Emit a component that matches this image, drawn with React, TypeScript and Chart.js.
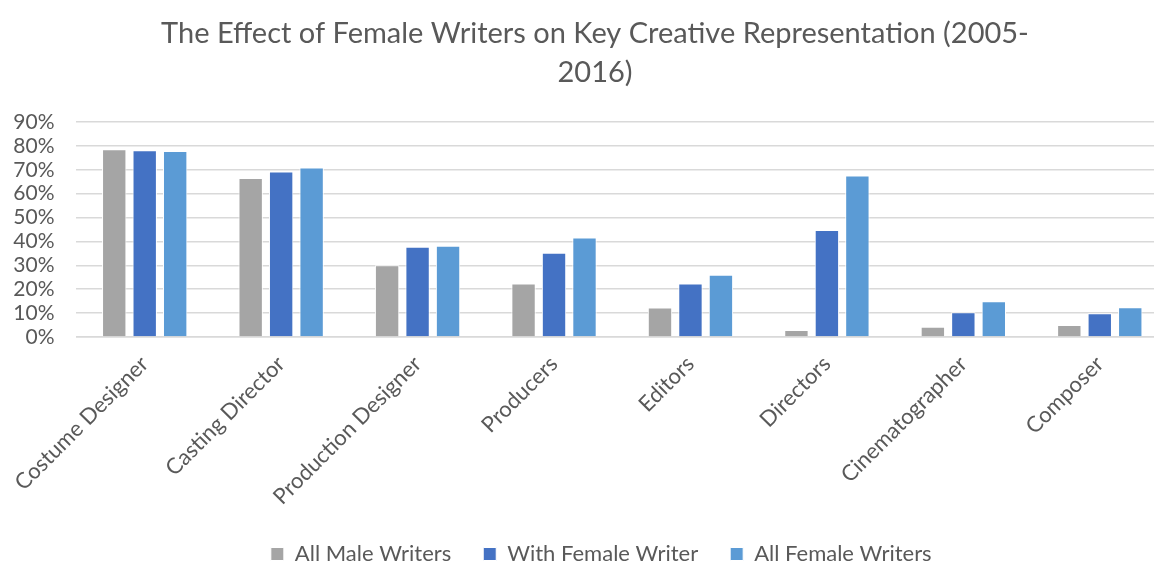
import React, { useEffect, useRef } from "react";
import { Chart, registerables } from "chart.js";

Chart.register(...registerables);

const categories = [
  "Costume Designer",
  "Casting Director",
  "Production Designer",
  "Producers",
  "Editors",
  "Directors",
  "Cinematographer",
  "Composer",
];
const allMale = [78.6, 66.6, 30.0, 22.4, 12.4, 2.9, 4.3, 5.0];
const withFemale = [78.2, 69.3, 37.8, 35.3, 22.4, 44.8, 10.4, 9.9];
const allFemale = [77.9, 71.0, 38.2, 41.7, 26.1, 67.6, 15.0, 12.5];
const seriesNames = ["All Male Writers", "With Female Writer", "All Female Writers"];
const titleLines = [
  "The Effect of Female Writers on Key Creative Representation (2005-",
  "2016)",
];

const FONT = "Lato, 'Open Sans', sans-serif";
const TEXT = "#595959";

const titlePlugin = {
  id: "excelTitle",
  afterDraw(chart: any) {
    const ctx = chart.ctx;
    ctx.save();
    ctx.fillStyle = TEXT;
    ctx.font = `normal 29px ${FONT}`;
    ctx.textAlign = "center";
    ctx.textBaseline = "middle";
    const cx = chart.width / 2 + 11;
    titleLines.forEach((line, i) => ctx.fillText(line, cx, 34 + i * 39));
    ctx.restore();
  },
};

// keep wide horizontal spacing between legend items while holding the legend box short
const legendFitPlugin = {
  id: "legendFit",
  beforeLayout(chart: any) {
    const lg = chart.legend;
    if (lg && !lg.__patched) {
      const orig = lg.fit;
      lg.fit = function (this: any) {
        orig.call(this);
        this.height = 52;
      };
      lg.__patched = true;
    }
  },
  afterLayout(chart: any) {
    const lg = chart.legend;
    if (lg) {
      lg.left -= 21;
      lg.right -= 21;
    }
  },
};

export default function App() {
  const ref = useRef<HTMLCanvasElement>(null);
  useEffect(() => {
    if (!ref.current) return;
    const chart = new Chart(ref.current, {
      type: "bar",
      data: {
        labels: categories,
        datasets: [
          { label: seriesNames[0], data: allMale, backgroundColor: "#A5A5A5", borderColor: "#FFFFFF", borderWidth: 1 },
          { label: seriesNames[1], data: withFemale, backgroundColor: "#4472C4", borderColor: "#FFFFFF", borderWidth: 1 },
          { label: seriesNames[2], data: allFemale, backgroundColor: "#5B9BD5", borderColor: "#FFFFFF", borderWidth: 1 },
        ],
      },
      plugins: [titlePlugin, legendFitPlugin],
      options: {
        animation: false,
        responsive: true,
        maintainAspectRatio: false,
        layout: { padding: { left: 0, right: 0, top: 122, bottom: 0 } },
        datasets: { bar: { categoryPercentage: 0.67, barPercentage: 0.8 } },
        plugins: {
          title: { display: false },
          legend: {
            position: "bottom",
            fullSize: false,
            labels: {
              color: TEXT,
              font: { family: FONT, size: 22, lineHeight: 1 },
              boxWidth: 13,
              boxHeight: 13,
              padding: 32,
            },
          },
          tooltip: { enabled: false },
        },
        scales: {
          x: {
            grid: { display: false, drawTicks: false },
            border: { display: true, color: "#D9D9D9", width: 1.5 },
            afterFit: (s: any) => {
              s.height = 174;
            },
            ticks: {
              color: TEXT,
              font: { family: FONT, size: 22 },
              maxRotation: 45,
              minRotation: 45,
              autoSkip: false,
              padding: 14,
            },
          },
          y: {
            min: 0,
            max: 90,
            afterFit: (s: any) => {
              s.width = 74;
            },
            grid: { color: "#D9D9D9", lineWidth: 1.5, drawTicks: false },
            border: { display: false },
            ticks: {
              stepSize: 10,
              autoSkip: false,
              color: TEXT,
              font: { family: FONT, size: 21 },
              padding: 22,
              callback: (v: any) => v + "%",
            },
          },
        },
      },
    });
    return () => chart.destroy();
  }, []);
  return (
    <div style={{ position: "fixed", left: 0, top: 0, width: 1154, height: 563, overflow: "hidden", background: "#fff" }}>
      <div style={{ position: "relative", width: 1168, height: 563 }}>
        <canvas ref={ref} />
      </div>
    </div>
  );
}
